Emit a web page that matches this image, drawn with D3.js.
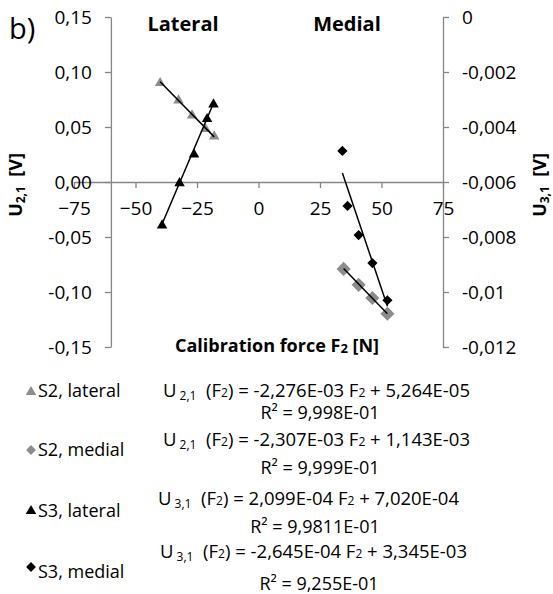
<!DOCTYPE html>
<html>
<head>
<meta charset="utf-8">
<script src="https://cdn.jsdelivr.net/npm/d3@7"></script>
<style>
  body { margin: 0; background: #fff; }
  svg text { font-family: "Open Sans", sans-serif; fill: #000; }
</style>
</head>
<body>
<div id="chart"></div>
<script>
// Calibration points: force F2 [N] and voltage [V]
const s2LatForce = [-40.0, -32.5, -27.0, -21.5, -18.0];
const s2LatU = [0.0900, 0.0742, 0.0605, 0.0482, 0.0415];
const s2MedForce = [34.6, 40.7, 46.3, 52.4];
const s2MedU = [-0.0790, -0.0935, -0.1055, -0.1198];
const s3LatForce = [-39.2, -32.1, -26.2, -20.9, -18.3];
const s3LatU = [-0.00758, -0.00604, -0.00500, -0.00371, -0.00318];
const s3MedForce = [34.1, 36.2, 40.7, 46.3, 52.4];
const s3MedU = [-0.00487, -0.00687, -0.00793, -0.00895, -0.01030];

// Trendline coefficients as printed in the legend
const fitSlope = [-2.276e-3, -2.307e-3, 2.099e-4, -2.645e-4];
const fitIntercept = [5.264e-5, 1.143e-3, 7.020e-4, 3.345e-3];

// Legend texts
const legendNames = ["S2, lateral", "S2, medial", "S3, lateral", "S3, medial"];
const eqSub = ["2,1", "2,1", "3,1", "3,1"];
const slopeLabels = ["-2,276E-03", "-2,307E-03", "2,099E-04", "-2,645E-04"];
const interceptLabels = ["5,264E-05", "1,143E-03", "7,020E-04", "3,345E-03"];
const r2Labels = ["9,998E-01", "9,999E-01", "9,9811E-01", "9,255E-01"];

// Tick values / labels
const xTicks = [-75, -50, -25, 0, 25, 50, 75];
const yLeftTicks = [-0.15, -0.10, -0.05, 0, 0.05, 0.10, 0.15];
const yLeftLabels = ["-0,15", "-0,10", "-0,05", "0,00", "0,05", "0,10", "0,15"];
const yRightTicks = [-0.012, -0.010, -0.008, -0.006, -0.004, -0.002, 0];
const yRightLabels = ["-0,012", "-0,01", "-0,008", "-0,006", "-0,004", "-0,002", "0"];

const width = 553, height = 594;
const axisColor = "#868686";
const grey = "#8c8c8c";

const svg = d3.select("#chart").append("svg")
    .attr("width", width)
    .attr("height", height);

// scales
const x = d3.scaleLinear().domain([-75, 75]).range([74, 443]);
const yL = d3.scaleLinear().domain([-0.15, 0.15]).range([347, 17]);
const yR = d3.scaleLinear().domain([-0.012, 0]).range([347, 17]);

function styleAxis(g, size) {
    g.attr("font-size", null).attr("font-family", null);
    g.selectAll("path, line").attr("stroke", axisColor).attr("stroke-width", 1.3);
    g.selectAll("text").style("font-size", size + "px");
}

// x axis crosses at 0 of the left axis
svg.append("g")
    .attr("transform", `translate(0,${yL(0)})`)
    .call(d3.axisBottom(x).tickValues(xTicks).tickSize(6).tickSizeOuter(0).tickPadding(14))
    .call(g => styleAxis(g, 19));

// left axis crosses the x axis at F = -60
svg.append("g")
    .attr("transform", `translate(${x(-60)},0)`)
    .call(d3.axisLeft(yL).tickValues(yLeftTicks).tickFormat((d, i) => yLeftLabels[i])
        .tickSize(6).tickSizeOuter(0).tickPadding(13))
    .call(g => styleAxis(g, 19));

svg.append("g")
    .attr("transform", `translate(${x(75)},0)`)
    .call(d3.axisRight(yR).tickValues(yRightTicks).tickFormat((d, i) => yRightLabels[i])
        .tickSize(6).tickSizeOuter(0).tickPadding(13))
    .call(g => styleAxis(g, 19));

// series
const series = [
    { force: s2LatForce, u: s2LatU, y: yL, shape: "tri", color: grey, size: 48 },
    { force: s2MedForce, u: s2MedU, y: yL, shape: "dia", color: grey, size: 100 },
    { force: s3LatForce, u: s3LatU, y: yR, shape: "tri", color: "#000", size: 48 },
    { force: s3MedForce, u: s3MedU, y: yR, shape: "dia", color: "#000", size: 52 }
];

function symbolPath(shape, size) {
    if (shape === "tri") return d3.symbol().type(d3.symbolTriangle).size(size)();
    return d3.symbol().type(d3.symbolSquare).size(size)();
}

series.forEach(s => {
    const pts = s.force.map((f, i) => [f, s.u[i]]);
    svg.append("g").selectAll("path")
        .data(pts)
        .join("path")
        .attr("d", symbolPath(s.shape, s.size))
        .attr("transform", d => `translate(${x(d[0])},${s.y(d[1])})` + (s.shape === "dia" ? " rotate(45)" : ""))
        .attr("fill", s.color);
});

// trendlines on top of markers
series.forEach((s, k) => {
    const ext = d3.extent(s.force);
    const line = d3.line().x(d => x(d)).y(d => s.y(fitSlope[k] * d + fitIntercept[k]));
    svg.append("path")
        .attr("d", line(ext))
        .attr("fill", "none")
        .attr("stroke", "#000")
        .attr("stroke-width", 1.5);
});

// titles
svg.append("text").attr("x", 9).attr("y", 39).style("font-size", "29px").text("b)");
svg.append("text").attr("x", 183).attr("y", 31).attr("text-anchor", "middle")
    .style("font-size", "20px").style("font-weight", "bold").text("Lateral");
svg.append("text").attr("x", 347).attr("y", 31).attr("text-anchor", "middle")
    .style("font-size", "20px").style("font-weight", "bold").text("Medial");

const xTitle = svg.append("text").attr("x", 277).attr("y", 352).attr("text-anchor", "middle")
    .style("font-size", "18px").style("font-weight", "bold");
xTitle.append("tspan").text("Calibration force F");
xTitle.append("tspan").style("font-size", "13px").attr("dy", 1).text("2");
xTitle.append("tspan").attr("dy", -1).text(" [N]");

function yTitle(tx, sub) {
    const t = svg.append("text")
        .attr("transform", `translate(${tx},185) rotate(-90)`)
        .attr("text-anchor", "middle")
        .style("font-size", "18px").style("font-weight", "bold");
    t.append("tspan").text("U");
    t.append("tspan").style("font-size", "12px").attr("dy", 3).text(sub);
    t.append("tspan").attr("dy", -3).style("white-space", "pre").text("  [V]");
}
yTitle(22, "2,1");
yTitle(546, "3,1");

// legend
const markerY = [392, 450, 511, 567];
const nameY = [397, 456, 517, 578];
const eqX = [163, 163, 158, 160];
const eqY = [397, 446, 505, 558];
const r2X = [320, 320, 315, 319];
const r2Y = [419, 474, 533, 590];

series.forEach((s, k) => {
    svg.append("path")
        .attr("d", symbolPath(s.shape, 48))
        .attr("transform", `translate(31,${markerY[k]})` + (s.shape === "dia" ? " rotate(45)" : ""))
        .attr("fill", s.color);

    svg.append("text").attr("x", 38).attr("y", nameY[k])
        .style("font-size", "18px").text(legendNames[k]);

    const eq = svg.append("text").attr("x", eqX[k]).attr("y", eqY[k])
        .style("font-size", "18.5px").style("white-space", "pre");
    eq.append("tspan").text("U");
    eq.append("tspan").style("font-size", "12px").attr("dy", 3).text(" " + eqSub[k]);
    eq.append("tspan").attr("dy", -3).text("  (F");
    eq.append("tspan").style("font-size", "12px").text("2");
    eq.append("tspan").text(") = " + slopeLabels[k] + " F");
    eq.append("tspan").style("font-size", "12px").text("2");
    eq.append("tspan").text(" + " + interceptLabels[k]);

    svg.append("text").attr("x", r2X[k]).attr("y", r2Y[k]).attr("text-anchor", "middle")
        .style("font-size", "18px").text("R² = " + r2Labels[k]);
});
</script>
</body>
</html>
